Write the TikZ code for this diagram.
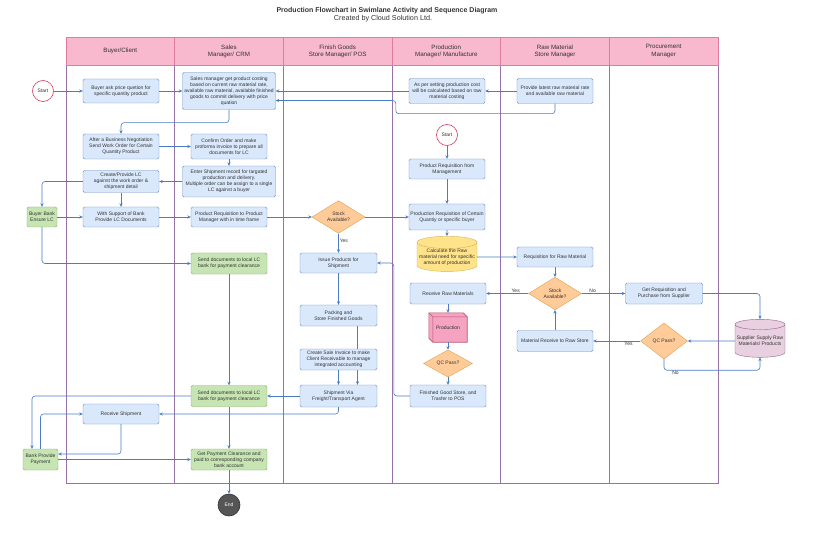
\documentclass[tikz,border=0pt]{standalone}
\usepackage{fontspec}
\setmainfont{Liberation Sans}
\usepackage{tikz}
\usetikzlibrary{arrows.meta,positioning,shapes.geometric,backgrounds}
\usepackage{xcolor}
\definecolor{boxfill}{HTML}{DAE8FC}
\definecolor{boxline}{HTML}{6C8EBF}
\definecolor{okfill}{HTML}{C6E5B3}
\definecolor{okline}{HTML}{82B366}
\definecolor{askfill}{HTML}{FFCC99}
\definecolor{askline}{HTML}{E0A050}
\definecolor{calcfill}{HTML}{FFE38A}
\definecolor{calcline}{HTML}{D6B656}
\definecolor{prodfill}{HTML}{F5A3C0}
\definecolor{prodline}{HTML}{B85470}
\definecolor{suppfill}{HTML}{E8D0E0}
\definecolor{suppline}{HTML}{9A5F88}
\definecolor{headfill}{HTML}{F8B8CD}
\definecolor{headline}{HTML}{E07BA0}
\definecolor{laneline}{HTML}{9673A6}
\definecolor{flowc}{HTML}{4A7DC4}
\definecolor{ink}{HTML}{333333}
\definecolor{startline}{HTML}{D6395E}
\definecolor{endfill}{HTML}{555555}
\newcommand{\boxfont}{\fontsize{5}{6}\selectfont}

\begin{document}
\begin{tikzpicture}[x=1pt, y=-1pt, font=\boxfont, text=ink,
  >={Stealth[length=3.5pt,width=3.2pt]},
  proc/.style={draw=boxline, fill=boxfill, rounded corners=1.5pt, align=center, inner sep=1pt, minimum width=76pt, minimum height=20pt},
  okbox/.style={proc, draw=okline, fill=okfill},
  decide/.style={diamond, draw=askline, fill=askfill, inner sep=0pt, align=center},
  drum/.style={cylinder, shape border rotate=90, aspect=0.22, align=center, inner sep=0pt},
  startc/.style={circle, draw=startline, fill=white, minimum size=21pt, inner sep=0pt, line width=0.6pt},
  endc/.style={circle, draw=black!80, fill=endfill, text=white, minimum size=22pt, inner sep=0pt, line width=0.6pt},
  flow/.style={->, draw=flowc, line width=0.6pt, rounded corners=3pt},
  lab/.style={font=\boxfont, text=ink, inner sep=1pt},
  lanehead/.style={draw=headline, fill=headfill, line width=0.6pt},
  lanebody/.style={draw=laneline, fill=white, line width=0.6pt},
  lanetitle/.style={align=center, font=\fontsize{6.2}{7.2}\selectfont, text=ink}]
\useasboundingbox (0,0) rectangle (830,540);

% title
\node[font=\bfseries\fontsize{7}{8}\selectfont] (title) at (387,11) {Production Flowchart in Swimlane Activity and Sequence Diagram};
\node[font=\fontsize{7.2}{8}\selectfont] (subtitle) at (383,19) {Created by Cloud Solution Ltd.};

% swimlanes
\begin{scope}[on background layer]
\foreach \i in {0,...,5} {
  \draw[lanebody] ({66+\i*108.67},65) rectangle ++(108.67,418);
  \draw[lanehead] ({66+\i*108.67},37) rectangle ++(108.67,28);
}
\end{scope}
\node[lanetitle] (hbuyer) at (120.3,51) {Buyer/Client};
\node[lanetitle] (hsales) at (229,51) {Sales\\Manager/ CRM};
\node[lanetitle] (hgoods) at (337.7,51) {Finish Goods\\Store Manager/ POS};
\node[lanetitle] (hprod) at (446.3,51) {Production\\Manager/ Manufacture};
\node[lanetitle] (hraw) at (555,51) {Raw Material\\Store Manager};
\node[lanetitle] (hproc) at (663.7,51) {Procurement\\Manager};

% buyer / client
\node[startc] (st1) at (43,91) {Start};
\node[proc, minimum height=24pt] (ask) at (121,91) {Buyer ask price quetion for\\specific quantity product};
\node[proc, minimum height=25pt] (nego) at (121,146.5) {After a Business Negotiation\\Send Work Order for Certain\\Quantity Product};
\node[proc, minimum height=22pt] (lc) at (121,181.5) {Create/Provide LC\\against the work order \&\\shipment detail};
\node[proc] (lcdoc) at (121,217) {With Support of Bank\\Provide LC Documents};
\node[okbox, minimum width=30pt] (bbank) at (42,217) {Buyer Bank\\Ensure LC};
\node[proc] (recv) at (121,414) {Receive Shipment};
\node[okbox, minimum width=35pt, minimum height=21pt] (bpay) at (40.5,459.5) {Bank Provide\\Payment};

% sales manager
\node[proc, minimum width=93pt, minimum height=37pt] (cost) at (229,91) {Sales manager get product costing\\based on current raw material rate,\\available raw material, available finished\\goods to commit delivery with price\\quation};
\node[proc, minimum height=25pt] (confirm) at (229,146.5) {Confirm Order and make\\proforma invoice to prepare all\\documents for LC};
\node[proc, minimum width=93pt, minimum height=31pt] (shiprec) at (229,181.5) {Enter Shipment record for targated\\production and delivery.\\Multiple order can be assign to a single\\LC against a buyer};
\node[proc] (preq) at (229,217) {Product Requisition to Product\\Manager with in time frame};
\node[okbox, minimum height=21pt] (send1) at (229,263.5) {Send documents to local LC\\bank for payment clearance};
\node[okbox, minimum height=21pt] (send2) at (229,396) {Send documents to local LC\\bank for payment clearance};
\node[okbox, minimum height=21pt] (clear) at (229,459.5) {Get Payment Clearance and\\paid to corresponding company\\bank account};
\node[endc] (fin) at (229,505) {End};

% finish goods store
\node[decide, minimum width=53pt, minimum height=31pt] (stock1) at (338.5,217) {Stock\\Available?};
\node[proc, minimum width=77pt] (issue) at (338.5,263) {Issue Products for\\Shipment};
\node[proc, minimum width=77pt, minimum height=21pt] (pack) at (338.5,315.5) {Packing and\\Store Finished Goods};
\node[proc, minimum width=77pt, minimum height=21pt] (inv) at (338.5,359.5) {Create Sale Invoice to make\\Client Receivable to manage\\integrated accounting};
\node[proc, minimum width=77pt, minimum height=22pt] (ship) at (338.5,396) {Shipment Via\\Freight/Transport Agent};

% production
\node[proc, minimum height=25pt] (pcost) at (447,91) {As per setting production cost\\will be calculated based on raw\\material costing};
\node[startc] (st2) at (447,135) {Start};
\node[proc] (mreq) at (447,169) {Product Requisition from\\Management};
\node[proc, minimum height=26pt] (preq2) at (447,217) {Production Requisition of Certain\\Quantiy or specific buyer};
\node[drum, draw=calcline, fill=calcfill, minimum width=60pt, minimum height=33pt] (calc) at (447,257) {Calculate the Raw\\material need for specific\\amount of production};
\node[proc, minimum height=21pt] (rraw) at (448,293.5) {Receive Raw Materials};
\node[minimum width=38pt, minimum height=29pt, inner sep=0pt] (prod) at (448,327.5) {Production};
\node[decide, minimum width=49pt, minimum height=19pt] (qc1) at (448,363.5) {QC Pass?};
\node[proc, minimum height=22pt] (fgs) at (448,396) {Finished Good Store, and\\Trasfer to POS};

% raw material store
\node[proc, minimum height=25pt] (rate) at (555,91) {Provide latest raw material rate\\and available raw material};
\node[proc] (rmreq) at (555,257) {Requisition for Raw Material};
\node[decide, minimum width=53pt, minimum height=31pt] (stock2) at (555,293.5) {Stock\\Available?};
\node[proc, minimum height=21pt] (mrecv) at (555,341) {Material Receive to Raw Store};

% procurement
\node[proc, minimum width=77pt, minimum height=21pt] (buy) at (664,293.5) {Get Requisition and\\Purchase from Supplier};
\node[decide, minimum width=47pt, minimum height=36pt] (qc2) at (664,341) {QC Pass?};
\node[drum, draw=suppline, fill=suppfill, minimum width=50pt, minimum height=38pt] (supp) at (760,341) {Supplier Supply Raw\\Materials/ Products};

% production cube
\begin{scope}[on background layer]
\filldraw[draw=prodline, fill=prodfill, line width=0.6pt] (prod.north west) -- ([xshift=-4pt]prod.north east) -- ([yshift=-4pt]prod.north east) -- (prod.south east) -- ([xshift=4pt]prod.south west) -- ([yshift=4pt]prod.south west) -- cycle;
\draw[flow] ([xshift=19pt]pack.south) -- ([xshift=19pt]ship.north);
\end{scope}
\draw[draw=prodline, line width=0.6pt] (prod.north west) -- ([xshift=4pt,yshift=-4pt]prod.north west) -- ([yshift=-4pt]prod.north east)
  ([xshift=4pt,yshift=-4pt]prod.north west) -- ([xshift=4pt]prod.south west);

% connectors
\draw[flow] (st1) -- (ask);
\draw[flow] (ask) -- (cost);
\draw[flow] (pcost) -- (cost);
\draw[flow] (rate) -- (pcost);
\draw[flow] (rate.south) -- ++(0,10) -| ([xshift=-13pt,yshift=-9.5pt]pcost.west) -- ([yshift=-9.5pt]cost.east);
\draw[flow] (cost.south) -- ++(0,13) -| (nego.north);
\draw[flow] (nego) -- (confirm);
\draw[flow] (confirm) -- (shiprec);
\draw[flow] (shiprec) -- (lc);
\draw[flow] (lc.west) -| (bbank.north);
\draw[flow] (lc) -- (lcdoc);
\draw[flow] (bbank) -- (lcdoc);
\draw[flow] (lcdoc) -- (preq);
\draw[flow] (preq) -- (stock1);
\draw[flow] (stock1) -- (preq2);
\draw[flow] (stock1) -- node[lab, right, pos=0.4] {Yes} (issue);
\draw[flow] (bbank.south) |- (send1.west);
\draw[flow] (send1) -- (send2);
\draw[flow] (st2) -- (mreq);
\draw[flow] (mreq) -- (preq2);
\draw[flow] (preq2) -- (calc);
\draw[flow] (calc) -- (rmreq);
\draw[flow] (rmreq) -- (stock2);
\draw[flow] (stock2) -- node[lab, above, pos=0.3] {Yes} (rraw);
\draw[flow] (stock2) -- node[lab, above, pos=0.25] {No} (buy);
\draw[flow] (buy.east) -| (supp.north);
\draw[flow] (supp) -- (qc2);
\draw[flow] (qc2) -- node[lab, below, pos=0.25] {Yes} (mrecv);
\draw[flow] (qc2.south) -- ++(0,11) -| node[lab, below, pos=0.06] {No} (supp.south);
\draw[flow] (mrecv) -- (stock2);
\draw[flow] (rraw) -- (prod);
\draw[flow] (prod) -- (qc1);
\draw[flow] (qc1) -- (fgs);
\draw[flow] (fgs.west) -- ++(-16,0) |- (issue.east);
\draw[flow] (issue) -- (pack);
\draw[flow] (inv) -- (ship);
\draw[flow] (ship) -- (send2);
\draw[flow] (ship.south) |- (recv.east);
\draw[flow] (send2.west) -| ([xshift=-8.5pt]bpay.north);
\draw[flow] (bpay.north) |- (recv.west);
\draw[flow] (recv.south) |- ([yshift=5.5pt]bpay.east);
\draw[flow] (bpay) -- (clear);
\draw[flow] (send2) -- (clear);
\draw[flow] (clear) -- (fin);
\end{tikzpicture}
\end{document}
